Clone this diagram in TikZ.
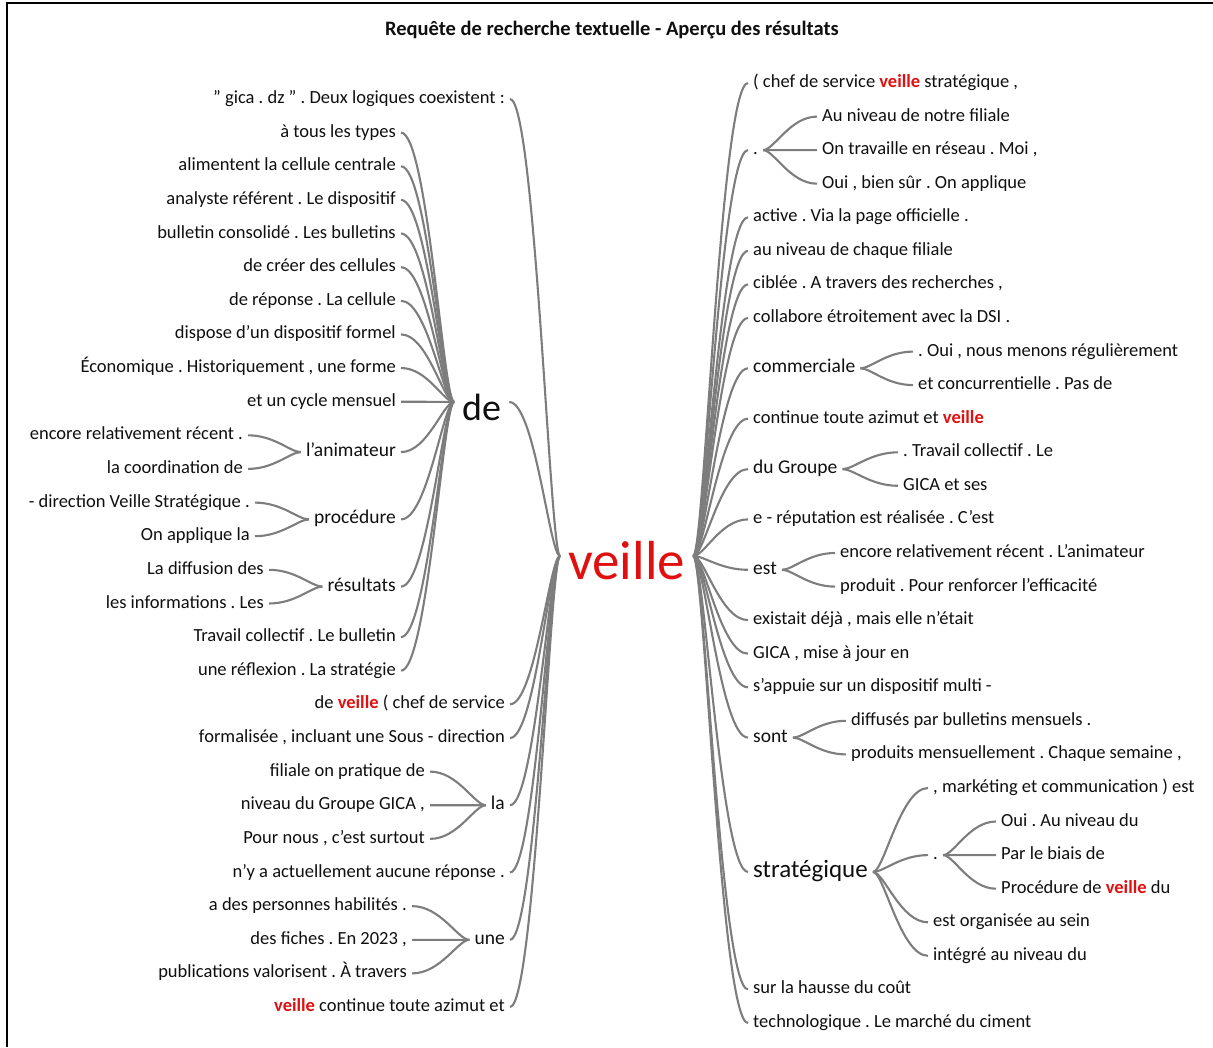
\documentclass[tikz,border=0pt]{standalone}
\usepackage{fontspec}
\setmainfont{Carlito}
\usetikzlibrary{calc}
\definecolor{vred}{RGB}{224,16,16}
\definecolor{linkgray}{RGB}{125,125,125}
\definecolor{ink}{RGB}{15,15,15}
\frenchspacing
\newcommand\vw{{\color{vred}\bfseries veille}}
% curved branch of the word tree: leaves the parent almost straight, hooks into the child
\newcommand\wlinkto[2]{\draw[wlink] (#1) .. controls ($(#1)!0.2!(#2|-#1)$) and ($(#2)!0.5!(#1|-#2)$) .. (#2);}

\begin{document}
\begin{tikzpicture}[x=1pt,y=-1pt,
  wlink/.style={draw=linkgray,line width=2.1pt},
  word/.style={inner xsep=5pt,inner ysep=0pt,text height=13pt,text depth=4pt,text=ink,
    font=\fontsize{18.5}{22}\selectfont},
  lw/.style={word,anchor=east},
  rw/.style={word,anchor=west},
  hub/.style={font=\fontsize{19.5}{23}\selectfont}]
\useasboundingbox (0,0) rectangle (1213,1047);
\draw[line width=2pt] (6.5,1047) -- (6.5,3) -- (1213,3);

\node[text=ink,font=\bfseries\fontsize{20.5}{24}\selectfont] (title) at (612,30)
  {Requête de recherche textuelle - Aperçu des résultats};

% central keyword
\node[anchor=west,inner xsep=8pt,inner ysep=0pt,text height=46pt,text depth=0pt,
  text=vred,font=\fontsize{55}{60}\selectfont] (veille) at (560,556) {veille};

% ---------- left-hand side (preceding words) ----------
\node[lw] (l0) at (510,99) {" gica . dz " . Deux logiques coexistent :};
\node[anchor=west,inner xsep=8pt,inner ysep=0pt,text height=36pt,text depth=0pt,
  text=ink,font=\fontsize{38}{40}\selectfont] (de) at (454,402) {de};
\node[lw] (l1) at (401,132.6) {à tous les types};
\node[lw] (l2) at (401,166.3) {alimentent la cellule centrale};
\node[lw] (l3) at (401,199.9) {analyste référent . Le dispositif};
\node[lw] (l4) at (401,233.5) {bulletin consolidé . Les bulletins};
\node[lw] (l5) at (401,267.2) {de créer des cellules};
\node[lw] (l6) at (401,300.8) {de réponse . La cellule};
\node[lw] (l7) at (401,334.4) {dispose d'un dispositif formel};
\node[lw] (l8) at (401,368.0) {Économique . Historiquement , une forme};
\node[lw] (l9) at (401,401.7) {et un cycle mensuel};
\node[lw,hub] (anim) at (401,452.1) {l'animateur};
\node[lw] (a1) at (248,435.3) {encore relativement récent .};
\node[lw] (a2) at (248,468.9) {la coordination de};
\node[lw,hub] (proc) at (401,519.4) {procédure};
\node[lw] (p1) at (255,502.6) {- direction Veille Stratégique .};
\node[lw] (p2) at (255,536.2) {On applique la};
\node[lw,hub] (res) at (401,586.6) {résultats};
\node[lw] (s1) at (269,569.8) {La diffusion des};
\node[lw] (s2) at (269,603.5) {les informations . Les};
\node[lw] (l16) at (401,637.1) {Travail collectif . Le bulletin};
\node[lw] (l17) at (401,670.7) {une réflexion . La stratégie};
\node[lw] (l18) at (510,704.3) {de \vw{} ( chef de service};
\node[lw] (l19) at (510,738.0) {formalisée , incluant une Sous - direction};
\node[lw,hub] (la) at (510,805.2) {la};
\node[lw] (la1) at (430,771.6) {filiale on pratique de};
\node[lw] (la2) at (430,805.2) {niveau du Groupe GICA ,};
\node[lw] (la3) at (430,838.9) {Pour nous , c'est surtout};
\node[lw] (l23) at (510,872.5) {n'y a actuellement aucune réponse .};
\node[lw,hub] (une) at (510,939.8) {une};
\node[lw] (u1) at (412,906.1) {a des personnes habilités .};
\node[lw] (u2) at (412,939.8) {des fiches . En 2023 ,};
\node[lw] (u3) at (412,973.4) {publications valorisent . À travers};
\node[lw] (l27) at (510,1007.0) {\vw{} continue toute azimut et};

% ---------- right-hand side (following words) ----------
\node[rw] (r0) at (748,83.0) {( chef de service \vw{} stratégique ,};
\node[rw] (d1) at (748,150.1) {.};
\node[rw] (d1a) at (817,116.6) {Au niveau de notre filiale};
\node[rw] (d1b) at (817,150.1) {On travaille en réseau . Moi ,};
\node[rw] (d1c) at (817,183.7) {Oui , bien sûr . On applique};
\node[rw] (r4) at (748,217.3) {active . Via la page officielle .};
\node[rw] (r5) at (748,250.9) {au niveau de chaque filiale};
\node[rw] (r6) at (748,284.4) {ciblée . A travers des recherches ,};
\node[rw] (r7) at (748,318.0) {collabore étroitement avec la DSI .};
\node[rw,hub] (comm) at (748,368.3) {commerciale};
\node[rw] (c1) at (913,351.6) {. Oui , nous menons régulièrement};
\node[rw] (c2) at (913,385.1) {et concurrentielle . Pas de};
\node[rw] (r10) at (748,418.7) {continue toute azimut et \vw};
\node[rw,hub] (grp) at (748,469.1) {du Groupe};
\node[rw] (g1) at (898,452.3) {. Travail collectif . Le};
\node[rw] (g2) at (898,485.8) {GICA et ses};
\node[rw] (r13) at (748,519.4) {e - réputation est réalisée . C'est};
\node[rw,hub] (est) at (748,569.8) {est};
\node[rw] (e1) at (835,553.0) {encore relativement récent . L'animateur};
\node[rw] (e2) at (835,586.6) {produit . Pour renforcer l'efficacité};
\node[rw] (r16) at (748,620.1) {existait déjà , mais elle n'était};
\node[rw] (r17) at (748,653.7) {GICA , mise à jour en};
\node[rw] (r18) at (748,687.3) {s'appuie sur un dispositif multi -};
\node[rw,hub] (sont) at (748,737.6) {sont};
\node[rw] (so1) at (846,720.8) {diffusés par bulletins mensuels .};
\node[rw] (so2) at (846,754.4) {produits mensuellement . Chaque semaine ,};
\node[rw,font=\fontsize{25}{28}\selectfont,text height=17pt,text depth=6pt] (strat) at (748,871.9) {stratégique};
\node[rw] (st1) at (928,788.0) {, markéting et communication ) est};
\node[rw] (d2) at (928,855.1) {.};
\node[rw] (d2a) at (996,821.5) {Oui . Au niveau du};
\node[rw] (d2b) at (996,855.1) {Par le biais de};
\node[rw] (d2c) at (996,888.7) {Procédure de \vw{} du};
\node[rw] (st4) at (928,922.3) {est organisée au sein};
\node[rw] (st5) at (928,955.8) {intégré au niveau du};
\node[rw] (r27) at (748,989.4) {sur la hausse du coût};
\node[rw] (r28) at (748,1023.0) {technologique . Le marché du ciment};

% ---------- branches ----------
\foreach \c in {l0,de,l18,l19,la,l23,une,l27} {\wlinkto{veille.west}{\c.east}}
\foreach \c in {l1,l2,l3,l4,l5,l6,l7,l8,l9,anim,proc,res,l16,l17} {\wlinkto{de.west}{\c.east}}
\foreach \c in {a1,a2} {\wlinkto{anim.west}{\c.east}}
\foreach \c in {p1,p2} {\wlinkto{proc.west}{\c.east}}
\foreach \c in {s1,s2} {\wlinkto{res.west}{\c.east}}
\foreach \c in {la1,la2,la3} {\wlinkto{la.west}{\c.east}}
\foreach \c in {u1,u2,u3} {\wlinkto{une.west}{\c.east}}

\foreach \c in {r0,d1,r4,r5,r6,r7,comm,r10,grp,r13,est,r16,r17,r18,sont,strat,r27,r28} {\wlinkto{veille.east}{\c.west}}
\foreach \c in {d1a,d1b,d1c} {\wlinkto{d1.east}{\c.west}}
\foreach \c in {c1,c2} {\wlinkto{comm.east}{\c.west}}
\foreach \c in {g1,g2} {\wlinkto{grp.east}{\c.west}}
\foreach \c in {e1,e2} {\wlinkto{est.east}{\c.west}}
\foreach \c in {so1,so2} {\wlinkto{sont.east}{\c.west}}
\foreach \c in {st1,d2,st4,st5} {\wlinkto{strat.east}{\c.west}}
\foreach \c in {d2a,d2b,d2c} {\wlinkto{d2.east}{\c.west}}
\end{tikzpicture}
\end{document}
